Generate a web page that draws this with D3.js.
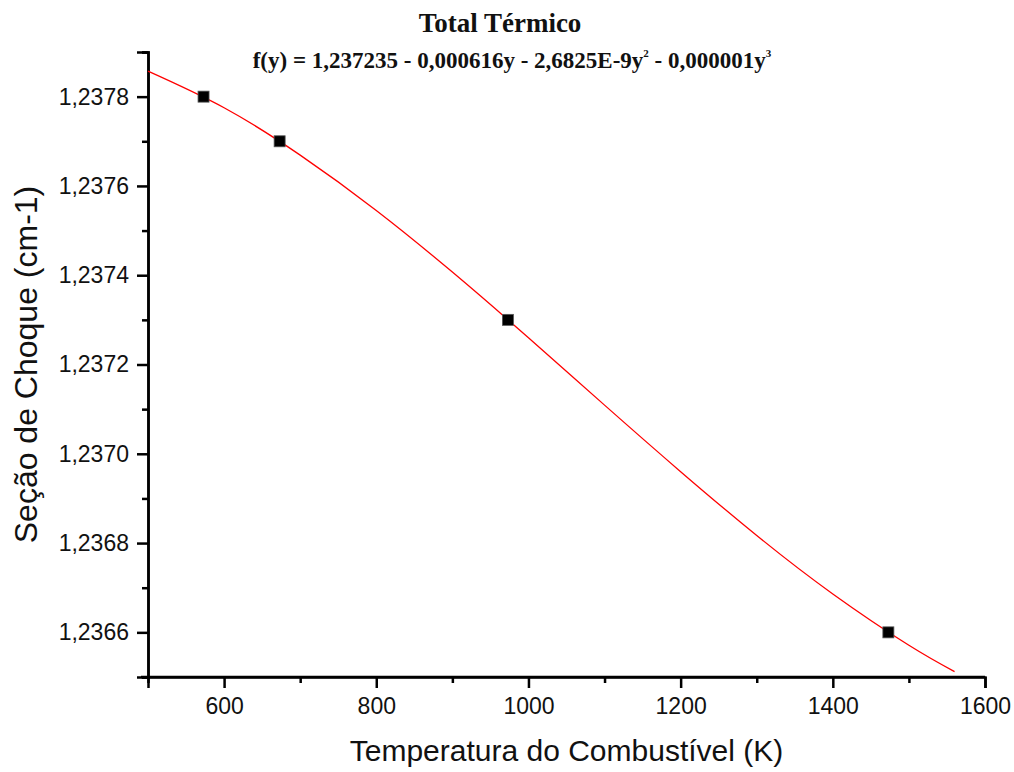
<!DOCTYPE html>
<html>
<head>
<meta charset="utf-8">
<script src="https://cdn.jsdelivr.net/npm/d3@7"></script>
<style>
  body { margin: 0; background: #fff; }
  svg text { fill: #111; }
</style>
</head>
<body>
<div id="chart"></div>
<script>
// measured points
const temps = [573, 673, 973, 1473];
const values = [1.2378, 1.2377, 1.2373, 1.2366];

// fitted curve, every 100 K
const fitTemps = [500, 600, 700, 800, 900, 1000, 1100, 1200, 1300, 1400, 1500, 1560];
const fitValues = [1.237857, 1.237775, 1.237669, 1.237545, 1.237407, 1.237260, 1.237109, 1.236960, 1.236817, 1.236686, 1.236571, 1.236512];

const xMajor = [600, 800, 1000, 1200, 1400, 1600];
const xMinor = [500, 700, 900, 1100, 1300, 1500];
const yMajor = [1.2366, 1.2368, 1.2370, 1.2372, 1.2374, 1.2376, 1.2378];
const yMinor = [1.2365, 1.2367, 1.2369, 1.2371, 1.2373, 1.2375, 1.2377, 1.2379];

const width = 1014, height = 772;
const margin = { top: 52, right: 29, bottom: 95, left: 148 };
const w = width - margin.left - margin.right;
const h = height - margin.top - margin.bottom;

const svg = d3.select("#chart")
    .append("svg")
    .attr("width", width)
    .attr("height", height);

const g = svg.append("g")
    .attr("transform", `translate(${margin.left},${margin.top})`);

const x = d3.scaleLinear().domain([500, 1600]).range([0, w]);
const y = d3.scaleLinear().domain([1.2365, 1.2379]).range([h, 0]);

const fmt = d => d.toFixed(4).replace(".", ",");

// axes
const xAxis = g.append("g")
    .attr("transform", `translate(0,${h})`)
    .call(d3.axisBottom(x).tickValues(xMajor).tickSize(11).tickPadding(10).tickFormat(d3.format("d")));
const xAxisMinor = g.append("g")
    .attr("transform", `translate(0,${h})`)
    .call(d3.axisBottom(x).tickValues(xMinor).tickSize(6).tickFormat(""));

const yAxis = g.append("g")
    .call(d3.axisLeft(y).tickValues(yMajor).tickSize(11).tickPadding(8).tickFormat(fmt));
const yAxisMinor = g.append("g")
    .call(d3.axisLeft(y).tickValues(yMinor).tickSize(6).tickFormat(""));

[xAxis, xAxisMinor, yAxis, yAxisMinor].forEach(a => {
    a.select(".domain").attr("stroke", "#000").attr("stroke-width", 2.5);
    a.selectAll(".tick line").attr("stroke", "#000").attr("stroke-width", 2.5);
    a.selectAll(".tick text")
        .attr("font-family", "Liberation Sans, Arial, sans-serif")
        .attr("font-size", 23)
        .attr("fill", "#333");
});
xAxisMinor.select(".domain").attr("d", `M-7,0H${w}`);

// fit line
const line = d3.line()
    .x((d, i) => x(fitTemps[i]))
    .y(d => y(d))
    .curve(d3.curveNatural);

g.append("path")
    .datum(fitValues)
    .attr("fill", "none")
    .attr("stroke", "#ff0000")
    .attr("stroke-width", 1.3)
    .attr("d", line);

// points
g.selectAll(".pt")
    .data(values)
    .enter().append("rect")
    .attr("class", "pt")
    .attr("x", (d, i) => x(temps[i]) - 5.5)
    .attr("y", d => y(d) - 5.5)
    .attr("width", 11)
    .attr("height", 11)
    .attr("fill", "#000")
    .attr("stroke", "#555")
    .attr("stroke-width", 0.8);

// titles
svg.append("text")
    .attr("x", 500)
    .attr("y", 32)
    .attr("text-anchor", "middle")
    .attr("font-family", "Liberation Serif, Times New Roman, serif")
    .attr("font-weight", "bold")
    .attr("font-size", 27)
    .text("Total Térmico");

const eq = svg.append("text")
    .attr("x", 512)
    .attr("y", 68)
    .attr("text-anchor", "middle")
    .attr("font-family", "Liberation Serif, Times New Roman, serif")
    .attr("font-weight", "bold")
    .attr("font-size", 23);
eq.append("tspan").text("f(y) = 1,237235 - 0,000616y - 2,6825E-9y");
eq.append("tspan").attr("dy", -11).attr("font-size", 11).text("2");
eq.append("tspan").attr("dy", 11).text(" - 0,000001y");
eq.append("tspan").attr("dy", -11).attr("font-size", 11).text("3");

svg.append("text")
    .attr("x", margin.left + w / 2)
    .attr("y", 761)
    .attr("text-anchor", "middle")
    .attr("font-family", "Liberation Sans, Arial, sans-serif")
    .attr("font-size", 30)
    .text("Temperatura do Combustível (K)");

svg.append("text")
    .attr("transform", `translate(37,${margin.top + h / 2}) rotate(-90)`)
    .attr("text-anchor", "middle")
    .attr("font-family", "Liberation Sans, Arial, sans-serif")
    .attr("font-size", 32)
    .text("Seção de Choque (cm-1)");
</script>
</body>
</html>
